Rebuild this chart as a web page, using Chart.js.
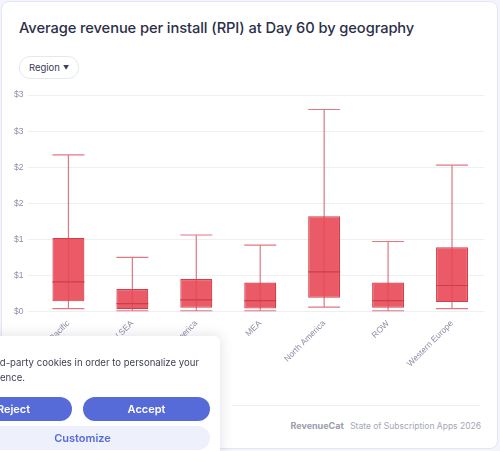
<!DOCTYPE html>
<html>
<head>
<meta charset="utf-8">
<script src="https://cdn.jsdelivr.net/npm/chart.js@4/dist/chart.umd.min.js"></script>
<style>
  html, body { margin: 0; padding: 0; background: #f4f5fb; }
  body { width: 500px; height: 451px; position: relative; overflow: hidden; font-family: Inter, "Noto Sans", sans-serif; }
  .card { position: absolute; left: 1px; top: 1px; width: 495px; height: 446px; background: #fff;
          border: 1px solid #e3e6f6; border-radius: 8px; }
  h1 { position: absolute; left: 17px; top: 17px; margin: 0; font-size: 14.7px; font-weight: 500; color: #2c2f48; letter-spacing: -0.1px; }
  .pill { position: absolute; left: 17px; top: 54px; height: 21px; width: 58px; border: 1px solid #e6e8ef; border-radius: 11px;
          font-size: 9.5px; color: #3a3d55; line-height: 21px; text-align: center; }
  .pill span { font-size: 6px; margin-left: 3px; vertical-align: 1px; }
  .wrap { position: absolute; left: 7px; top: 83px; width: 479px; height: 283px; }
  .footer-line { position: absolute; left: 230px; right: 17px; top: 403px; border-top: 1px solid #eceef3; }
  .footer { position: absolute; right: 16px; top: 418px; font-size: 8.5px; color: #a4a7b6; }
  .footer b { color: #9a9dab; font-size: 9px; margin-right: 4px; }
  .cookie { position: absolute; left: -60px; top: 336px; width: 280px; height: 120px; background: #fff;
            box-shadow: 0 0 14px rgba(40,40,80,0.15); border-radius: 6px; }
  .cookie .ln { position: absolute; top: 19px; font-size: 9.6px; line-height: 15px; color: #3c3f52; white-space: nowrap; }
  .btn { position: absolute; height: 24px; border-radius: 12px; background: #566bd8; color: #fff; font-size: 11px; font-weight: 600;
         text-align: center; line-height: 24px; }
  .cust { background: #eef0fb; color: #566bd8; }
</style>
</head>
<body>
<div class="card">
  <h1>Average revenue per install (RPI) at Day 60 by geography</h1>
  <div class="pill">Region<span>&#9660;</span></div>
  <div class="wrap"><canvas id="box"></canvas></div>
  <div class="footer-line"></div>
  <div class="footer"><b>RevenueCat</b> State of Subscription Apps 2026</div>
</div>
<div class="cookie">
  <div class="ln" id="l1">We use third-party cookies in order to personalize your</div>
  <div class="ln" id="l2" style="top:34px;">experience.</div>
  <div class="btn" style="left:15px; top:61px; width:117px;">Reject</div>
  <div class="btn" style="left:143px; top:61px; width:127px;">Accept</div>
  <div class="btn cust" style="left:15px; top:90px; width:255px;">Customize</div>
</div>
<script>
// regions and box plot stats (USD)
const regions = ['Asia Pacific', 'IN / SEA', 'Latin America', 'MEA', 'North America', 'ROW', 'Western Europe'];
const whiskerLow = [0.04, 0.01, 0.01, 0.01, 0.06, 0.01, 0.04];
const q1 = [0.14, 0.03, 0.05, 0.04, 0.19, 0.05, 0.13];
const median = [0.41, 0.11, 0.16, 0.15, 0.55, 0.15, 0.36];
const q3 = [1.02, 0.31, 0.45, 0.40, 1.32, 0.40, 0.89];
const whiskerHigh = [2.17, 0.75, 1.06, 0.92, 2.80, 0.97, 2.03];
const yTicks = [0, 0.5, 1, 1.5, 2, 2.5, 3];

// cookie banner is clipped at the window edge: line up the visible parts
function clipLine(id, hidden) {
  const el = document.getElementById(id);
  const probe = document.createElement('span');
  probe.textContent = hidden;
  probe.style.cssText = 'position:absolute;visibility:hidden;white-space:nowrap;font-size:9.6px';
  document.body.appendChild(probe);
  el.style.left = (60 - probe.getBoundingClientRect().width) + 'px';
  probe.remove();
}
clipLine('l1', 'We use thir');
clipLine('l2', 'experi');

// whiskers + caps behind boxes, medians on top
const boxExtras = {
  id: 'boxExtras',
  beforeDatasetsDraw(chart) {
    const y = chart.scales.y, ctx = chart.ctx;
    const bars = chart.getDatasetMeta(0).data;
    ctx.save();
    ctx.strokeStyle = 'rgba(218, 96, 108, 0.85)';
    ctx.lineWidth = 1.2;
    bars.forEach((b, i) => {
      const half = b.width / 2;
      const top = y.getPixelForValue(whiskerHigh[i]), bot = y.getPixelForValue(whiskerLow[i]);
      ctx.beginPath();
      ctx.moveTo(b.x, top); ctx.lineTo(b.x, bot);
      ctx.moveTo(b.x - half, top); ctx.lineTo(b.x + half, top);
      ctx.moveTo(b.x - half, bot); ctx.lineTo(b.x + half, bot);
      ctx.stroke();
    });
    ctx.restore();
  },
  afterDatasetsDraw(chart) {
    const y = chart.scales.y, ctx = chart.ctx;
    const bars = chart.getDatasetMeta(0).data;
    ctx.save();
    ctx.strokeStyle = '#c9404c';
    ctx.lineWidth = 1.2;
    bars.forEach((b, i) => {
      const half = b.width / 2;
      const m = y.getPixelForValue(median[i]);
      ctx.beginPath();
      ctx.moveTo(b.x - half, m); ctx.lineTo(b.x + half, m);
      ctx.stroke();
    });
    ctx.restore();
  }
};

new Chart(document.getElementById('box'), {
  type: 'bar',
  data: {
    labels: regions,
    datasets: [{
      label: 'IQR',
      data: q1.map((v, i) => [v, q3[i]]),
      backgroundColor: 'rgba(232, 72, 86, 0.9)',
      borderColor: '#d43d4b',
      borderWidth: 1.2,
      borderSkipped: false,
      barPercentage: 0.5,
      categoryPercentage: 1
    }]
  },
  options: {
    responsive: true,
    maintainAspectRatio: false,
    animation: false,
    layout: { padding: { right: 4, top: 9 } },
    plugins: { legend: { display: false }, tooltip: { enabled: false } },
    scales: {
      x: {
        grid: { display: false },
        border: { display: false },
        ticks: { color: '#8c8fa3', font: { size: 8.5 }, minRotation: 45, maxRotation: 45, padding: -1 }
      },
      y: {
        min: 0, max: 3,
        afterBuildTicks: s => { s.ticks = yTicks.map(v => ({ value: v })); },
        grid: { color: '#eeeff3' },
        border: { display: false },
        ticks: { color: '#8c8fa3', font: { size: 8.5 }, padding: 5, callback: v => '$' + Math.round(v) }
      }
    }
  },
  plugins: [boxExtras]
});
</script>
</body>
</html>
